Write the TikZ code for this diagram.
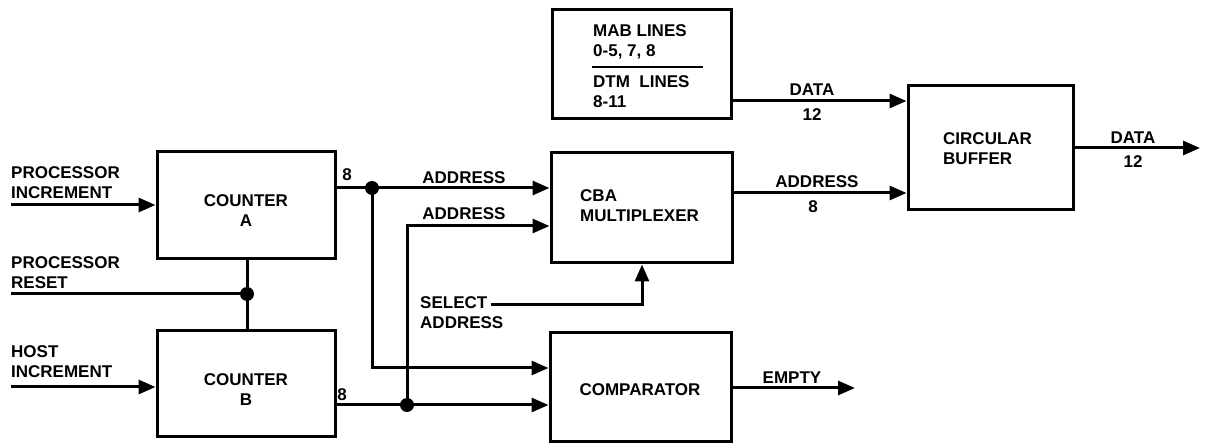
\documentclass[tikz,border=0pt]{standalone}
\usepackage{fontspec}
\setmainfont{Liberation Sans}
\usetikzlibrary{arrows.meta}
\begin{document}
\begin{tikzpicture}[x=1pt,y=-1pt,
  box/.style={draw, line width=3pt, inner sep=0pt},
  lbl/.style={font=\bfseries\fontsize{17}{20}\selectfont, inner sep=0pt, align=left},
  wire/.style={line width=3pt},
  arr/.style={wire, -{Triangle[length=17pt,width=14pt]}},
  jdot/.style={circle, fill=black, inner sep=0pt, minimum size=14pt}]
\useasboundingbox (0,0) rectangle (1205,443);
% boxes
\node[box, minimum width=178pt, minimum height=107pt] (ca) at (246,205.5) {};
\node[lbl, align=center] at (246,211) {COUNTER\\A};
\node[box, minimum width=178pt, minimum height=106pt] (cb) at (246,384) {};
\node[lbl, align=center] at (246,389.5) {COUNTER\\B};
\node[box, minimum width=179pt, minimum height=109pt] (mab) at (641.5,64.5) {};
\node[lbl, anchor=west] (mab1) at (593,42) {MAB LINES\\0-5, 7, 8};
\node[lbl, anchor=west] (mab2) at (593,91.5) {DTM\ \ LINES\\8-11};
\coordinate (sepL) at (592,67);
\coordinate (sepR) at (703,67);
\draw[line width=2pt] (sepL) -- (sepR);
\node[box, minimum width=181pt, minimum height=110pt] (mux) at (641.5,208) {};
\node[lbl, anchor=west] at (580,206) {CBA\\MULTIPLEXER};
\node[box, minimum width=181pt, minimum height=109pt] (cmp) at (640.5,387.5) {};
\node[lbl] at (640,390) {COMPARATOR};
\node[box, minimum width=165pt, minimum height=124pt] (buf) at (990.5,148) {};
\node[lbl, anchor=west] at (943,149) {CIRCULAR\\BUFFER};
% inputs on the left
\coordinate (pi) at (11,205);
\coordinate (pr) at (11,294);
\coordinate (hi) at (11,387);
\node[lbl, anchor=west] at (11,182.5) {PROCESSOR\\INCREMENT};
\node[lbl, anchor=west] at (11,272.5) {PROCESSOR\\RESET};
\node[lbl, anchor=west] at (11,362) {HOST\\INCREMENT};
\draw[arr] (pi) -- (ca.west |- pi);
\draw[arr] (hi) -- (cb.west |- hi);
\node[jdot] (rd) at (247,294) {};
\draw[wire] (ca.south -| rd) -- (cb.north -| rd);
\draw[wire] (pr) -- (rd.center);
% counter outputs
\node[jdot] (da) at (372,188) {};
\node[jdot] (db) at (407,405) {};
\node[lbl] at (347,175) {8};
\node[lbl] at (342,395) {8};
\coordinate (ta) at (372,368);
\coordinate (tb) at (407,226);
\draw[arr] (ca.east |- da) -- (da.center) -- (mux.west |- da);
\draw[arr] (da.center) -- (ta) -- (cmp.west |- ta);
\draw[arr] (cb.east |- db) -- (db.center) -- (cmp.west |- db);
\draw[arr] (db.center) -- (tb) -- (mux.west |- tb);
\node[lbl] at (464,178) {ADDRESS};
\node[lbl] at (464,214) {ADDRESS};
% select address
\node[lbl, anchor=west] at (420,312.5) {SELECT\\ADDRESS};
\coordinate (sel) at (491,305);
\coordinate (selc) at (642,305);
\draw[arr] (sel) -- (selc) -- (mux.south -| selc);
% comparator output
\coordinate (empty) at (855,388);
\draw[arr] (cmp.east |- empty) -- (empty);
\node[lbl] at (792,378) {EMPTY};
% to buffer
\coordinate (dat) at (731,101);
\draw[arr] (mab.east |- dat) -- (buf.west |- dat);
\node[lbl] at (812,90) {DATA};
\node[lbl] at (812,115) {12};
\coordinate (adr) at (732,193);
\draw[arr] (mux.east |- adr) -- (buf.west |- adr);
\node[lbl] at (817,182) {ADDRESS};
\node[lbl] at (813,207) {8};
% buffer output
\coordinate (out) at (1200,148);
\draw[arr] (buf.east |- out) -- (out);
\node[lbl] at (1133,138) {DATA};
\node[lbl] at (1133,162) {12};
\end{tikzpicture}
\end{document}
